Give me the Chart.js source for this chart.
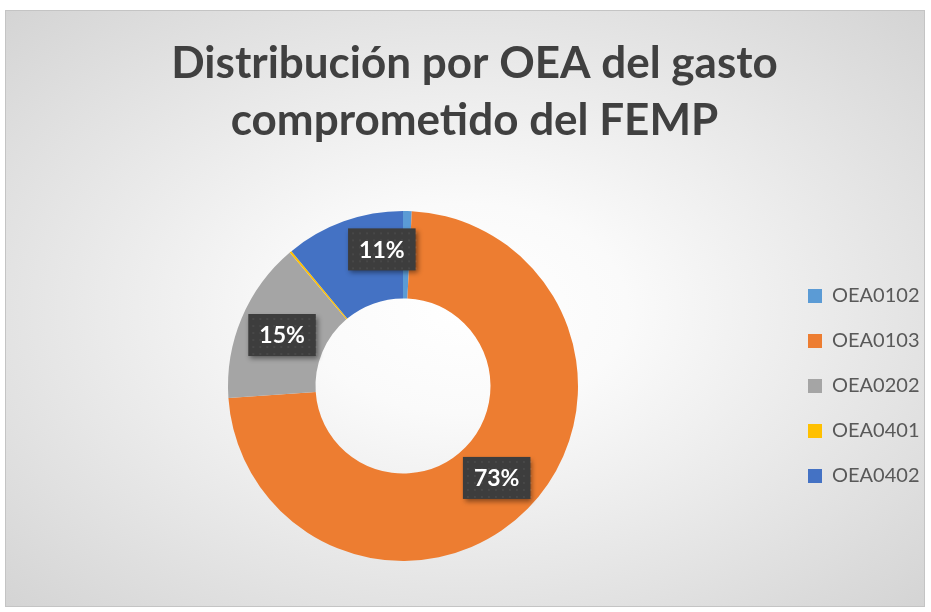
<!DOCTYPE html>
<html>
<head>
<meta charset="utf-8">
<script src="https://cdn.jsdelivr.net/npm/chart.js@4"></script>
<style>
  html, body { margin: 0; padding: 0; background: #ffffff; }
  #frame {
    position: absolute; left: 5px; top: 10px; width: 918px; height: 595px;
    border: 1px solid #c4c4c4;
    background: radial-gradient(ellipse farthest-corner at 50% 50%, #ffffff 0%, #fafafa 25%, #d4d4d4 100%);
  }
  #wrap { position: absolute; left: 0; top: 0; width: 920px; height: 597px; }
</style>
</head>
<body>
<div id="frame">
  <div id="wrap"><canvas id="myChart"></canvas></div>
</div>
<script>
var categorias = ['OEA0102', 'OEA0103', 'OEA0202', 'OEA0401', 'OEA0402'];
var valores = [0.8, 73.1, 14.9, 0.2, 11.0];
var colores = ['#5B9BD5', '#ED7D31', '#A5A5A5', '#FFC000', '#4472C4'];
var titulo = ['Distribución por OEA del gasto', 'comprometido del FEMP'];

var textColor = '#404040';

// etiquetas de porcentaje en cajas oscuras
var etiquetas = {
    id: 'etiquetas',
    afterDatasetsDraw: function (chart, args, opts) {
        var ctx = chart.ctx;
        var meta = chart.getDatasetMeta(0);
        var total = valores.reduce(function (a, b) { return a + b; }, 0);
        ctx.save();
        ctx.font = 'bold 23px Lato';
        ctx.textAlign = 'center';
        ctx.textBaseline = 'middle';
        meta.data.forEach(function (arc, i) {
            var pct = Math.round(valores[i] / total * 100);
            if (pct < opts.minimo) return;
            var p = arc.getProps(['x', 'y', 'startAngle', 'endAngle', 'innerRadius', 'outerRadius'], true);
            var ang = (p.startAngle + p.endAngle) / 2 + (opts.nudge[i] || 0) * Math.PI / 180;
            var r = (p.innerRadius + p.outerRadius) / 2 + (opts.nudgeR[i] || 0);
            var x = p.x + Math.cos(ang) * r;
            var y = p.y + Math.sin(ang) * r;
            var txt = pct + '%';
            var w = ctx.measureText(txt).width + 22;
            var h = 42;
            ctx.save();
            ctx.shadowColor = 'rgba(0,0,0,0.45)';
            ctx.shadowBlur = 5;
            ctx.shadowOffsetX = 2;
            ctx.shadowOffsetY = 3;
            ctx.fillStyle = '#3d3d3d';
            ctx.fillRect(x - w / 2, y - h / 2, w, h);
            ctx.restore();
            // textura de puntos
            ctx.fillStyle = 'rgba(255,255,255,0.06)';
            for (var dx = 4; dx < w; dx += 7) {
                for (var dy = 4; dy < h; dy += 7) {
                    ctx.fillRect(x - w / 2 + dx, y - h / 2 + dy, 2, 2);
                }
            }
            ctx.fillStyle = '#ffffff';
            ctx.fillText(txt, x, y + 1);
        });
        ctx.restore();
    }
};

// ajustar el ancho de la leyenda
var ajusteLeyenda = {
    id: 'ajusteLeyenda',
    beforeInit: function (chart) {
        var fitOrig = chart.legend.fit;
        chart.legend.fit = function () {
            fitOrig.bind(chart.legend)();
            this.width = 143;
        };
    }
};

new Chart(document.getElementById('myChart'), {
    type: 'doughnut',
    data: {
        labels: categorias,
        datasets: [{
            data: valores,
            backgroundColor: colores,
            borderWidth: 0,
            hoverOffset: 0
        }]
    },
    options: {
        responsive: true,
        maintainAspectRatio: false,
        animation: false,
        cutout: '50%',
        layout: {
            padding: { left: 17, right: 0, top: 0, bottom: 47 }
        },
        plugins: {
            title: {
                display: true,
                text: titulo,
                color: textColor,
                font: { family: 'Lato', size: 44, weight: 'bold', lineHeight: 1.3 },
                padding: { top: 24, bottom: 61.6 }
            },
            legend: {
                position: 'right',
                align: 'center',
                fullSize: false,
                labels: {
                    color: '#595959',
                    font: { family: 'Lato', size: 20 },
                    boxWidth: 14,
                    boxHeight: 14,
                    padding: 25
                }
            },
            tooltip: { enabled: false },
            etiquetas: {
                minimo: 5,
                nudge: [0, 0, 0, 0, 11],
                nudgeR: [0, 0, 0, 0, 7]
            }
        }
    },
    plugins: [etiquetas, ajusteLeyenda]
});
</script>
</body>
</html>
